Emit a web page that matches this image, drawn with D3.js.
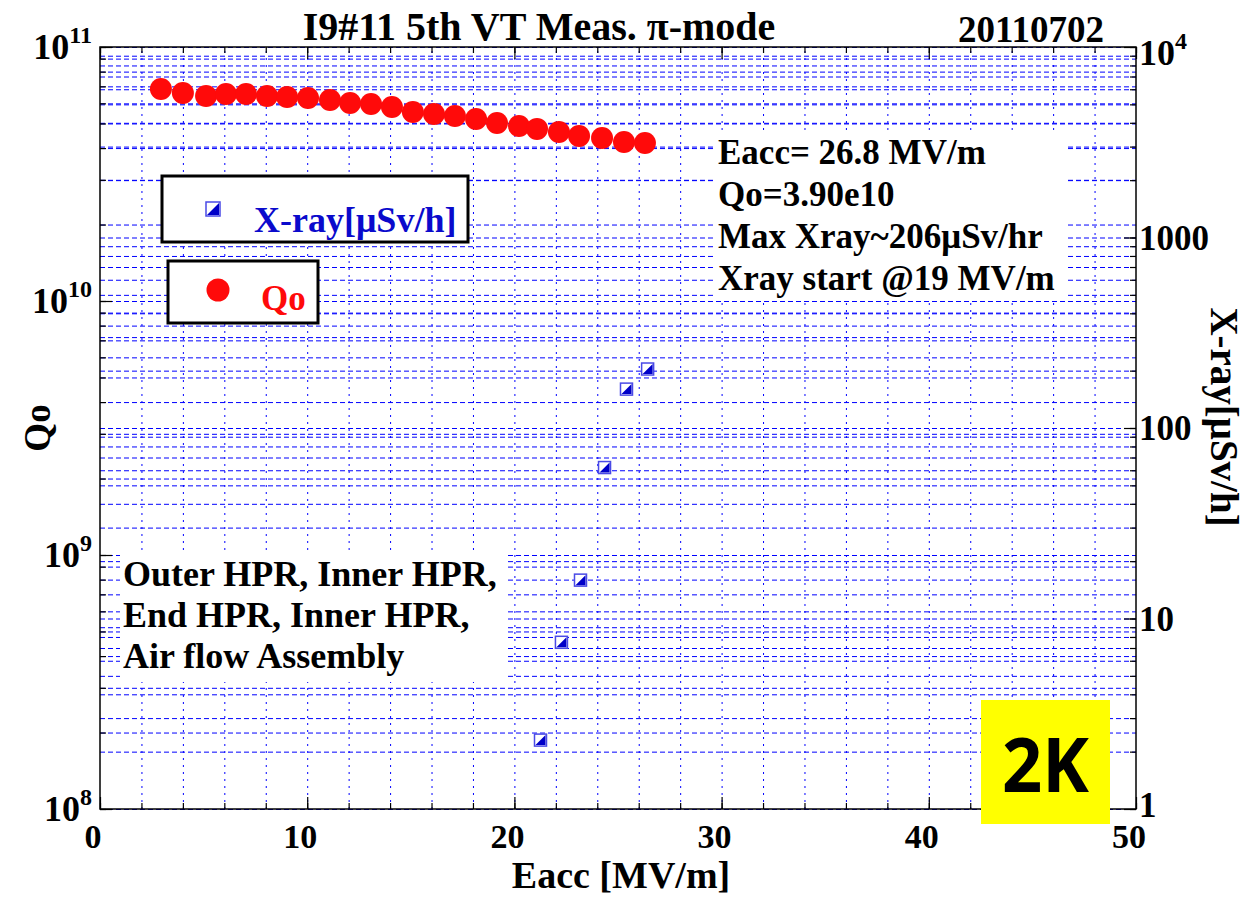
<!DOCTYPE html>
<html>
<head>
<meta charset="utf-8">
<title>I9#11 5th VT Meas.</title>
<script src="https://d3js.org/d3.v7.min.js"></script>
<style>
  body { margin: 0; background: #fff; }
  text { font-family: "Liberation Serif", "Times New Roman", serif; font-weight: bold; }
</style>
</head>
<body>
<svg width="1250" height="898"></svg>
<script>
// Qo points (Eacc in MV/m, Qo)
var eaccQo = [2.94, 4.0, 5.12, 6.08, 7.05, 8.06, 9.03, 10.04, 11.1, 12.07, 13.08, 14.09,
              15.1, 16.12, 17.13, 18.15, 19.16, 20.22, 21.09, 22.15, 23.12, 24.23, 25.29, 26.3];
var qo = [6.83e10, 6.59e10, 6.41e10, 6.53e10, 6.53e10, 6.41e10, 6.36e10, 6.30e10, 6.18e10, 6.02e10, 5.96e10, 5.80e10,
          5.55e10, 5.45e10, 5.35e10, 5.21e10, 5.02e10, 4.89e10, 4.76e10, 4.63e10, 4.46e10, 4.38e10, 4.23e10, 4.19e10];
// X-ray points (Eacc, uSv/h)
var eaccXray = [21.26, 22.27, 23.19, 24.35, 25.41, 26.43];
var xray = [2.3, 7.5, 15.9, 62, 160, 204];

var xTicks = [0, 10, 20, 30, 40, 50];
var qoExp = [8, 9, 10, 11];
var xrayTicks = [1, 10, 100, 1000];
var notes = ["Eacc= 26.8 MV/m", "Qo=3.90e10", "Max Xray~206\u03bcSv/hr", "Xray start @19 MV/m"];
var process = ["Outer HPR, Inner HPR,", "End HPR, Inner HPR,", "Air flow Assembly"];

var svg = d3.select("svg");
var L = 100, R = 1136, T = 47, B = 809;

var x = d3.scaleLinear().domain([0, 50]).range([L, R]);
var yQ = d3.scaleLog().domain([1e8, 1e11]).range([B, T]);
var yX = d3.scaleLog().domain([1, 1e4]).range([B, T]);

// grid: vertical dotted every 2 MV/m
svg.append("g").attr("transform", "translate(0," + B + ")")
  .call(d3.axisBottom(x).tickValues(d3.range(2, 50, 2)).tickSize(-(B - T)).tickFormat(""))
  .call(function (g) { g.select(".domain").remove(); })
  .selectAll("line").attr("stroke", "#0000ff").attr("stroke-width", 1).attr("stroke-dasharray", "2,5");

// grid: horizontal dashed lines from both log axes
[yQ, yX].forEach(function (s) {
  svg.append("g").attr("transform", "translate(" + L + ",0)")
    .call(d3.axisRight(s).tickSize(R - L).tickFormat(""))
    .call(function (g) { g.select(".domain").remove(); })
    .selectAll("line").attr("stroke", "#0000ff").attr("stroke-width", 1).attr("stroke-dasharray", "5,3");
});

// white boxes behind texts
svg.append("rect").attr("x", 716).attr("y", 133).attr("width", 351).attr("height", 165).attr("fill", "#fff");
svg.append("rect").attr("x", 120).attr("y", 554).attr("width", 385).attr("height", 128).attr("fill", "#fff");

// frame + ticks
svg.append("rect").attr("x", L).attr("y", T).attr("width", R - L).attr("height", B - T)
  .attr("fill", "none").attr("stroke", "#000").attr("stroke-width", 1.5);

function tickAxis(axis, tr, size, vals) {
  var a = axis.tickSize(size).tickFormat("");
  if (vals) a.tickValues(vals);
  svg.append("g").attr("transform", tr).call(a)
    .call(function (g) { g.select(".domain").remove(); })
    .selectAll("line").attr("stroke", "#000").attr("stroke-width", 1.2);
}
tickAxis(d3.axisRight(yQ), "translate(" + L + ",0)", 6);
tickAxis(d3.axisRight(yQ), "translate(" + L + ",0)", 12, [1e8, 1e9, 1e10, 1e11]);
tickAxis(d3.axisLeft(yX), "translate(" + R + ",0)", 6);
tickAxis(d3.axisLeft(yX), "translate(" + R + ",0)", 12, [1, 10, 100, 1000, 1e4]);
tickAxis(d3.axisTop(x), "translate(0," + B + ")", 6, d3.range(0, 51, 2));
tickAxis(d3.axisTop(x), "translate(0," + B + ")", 12, xTicks);
tickAxis(d3.axisBottom(x), "translate(0," + T + ")", 6, d3.range(0, 51, 2));
tickAxis(d3.axisBottom(x), "translate(0," + T + ")", 12, xTicks);

// tick labels
svg.append("g").selectAll("text").data(xTicks).join("text")
  .attr("x", function (d) { return x(d) - 7; }).attr("y", B + 39)
  .attr("text-anchor", "middle").attr("font-size", 34).text(function (d) { return d; });

var ql = svg.append("g").selectAll("text").data(qoExp).join("text")
  .attr("x", 92).attr("y", function (d) { return yQ(Math.pow(10, d)) + 12; })
  .attr("text-anchor", "end").attr("font-size", 36);
ql.append("tspan").text("10");
ql.append("tspan").attr("font-size", 24).attr("dy", -16).text(function (d) { return d; });

svg.append("g").selectAll("text").data(xrayTicks).join("text")
  .attr("x", R + 3).attr("y", function (d) { return yX(d) + (d === 1 ? 8 : 12); })
  .attr("font-size", 35).text(function (d) { return d; });
var t4 = svg.append("text").attr("x", R + 3).attr("y", yX(1e4) + 18).attr("font-size", 36);
t4.append("tspan").text("10");
t4.append("tspan").attr("font-size", 24).attr("dy", -16).text("4");

// titles
svg.append("text").attr("x", 539).attr("y", 40).attr("text-anchor", "middle").attr("font-size", 40)
  .text("I9#11 5th VT Meas. \u03c0-mode");
svg.append("text").attr("x", 1031).attr("y", 42).attr("text-anchor", "middle").attr("font-size", 37)
  .text("20110702");
svg.append("text").attr("x", 621).attr("y", 888).attr("text-anchor", "middle").attr("font-size", 38)
  .text("Eacc [MV/m]");
svg.append("text").attr("transform", "translate(50," + (T + B) / 2 + ") rotate(-90)")
  .attr("text-anchor", "middle").attr("font-size", 37).text("Qo");
svg.append("text").attr("transform", "translate(1211,417) rotate(90)")
  .attr("text-anchor", "middle").attr("font-size", 39).text("X-ray[\u03bcSv/h]");

// annotation texts
svg.append("g").selectAll("text").data(notes).join("text")
  .attr("x", 718).attr("y", function (d, i) { return 164 + i * 42; })
  .attr("font-size", 35).text(function (d) { return d; });
svg.append("g").selectAll("text").data(process).join("text")
  .attr("x", 123).attr("y", function (d, i) { return 586 + i * 41; })
  .attr("font-size", 36).text(function (d) { return d; });

// data: Qo circles
svg.append("g").selectAll("circle").data(qo).join("circle")
  .attr("cx", function (d, i) { return x(eaccQo[i]); })
  .attr("cy", function (d) { return yQ(d); })
  .attr("r", 11).attr("fill", "#ff0a0a");

// data: X-ray half-filled squares
function squareMarker(g, cx, cy, s) {
  s = s || 6;
  g.append("rect").attr("x", cx - s).attr("y", cy - s).attr("width", 2 * s).attr("height", 2 * s)
    .attr("fill", "#fff").attr("stroke", "#4a4ae6").attr("stroke-width", 1.5);
  g.append("path").attr("d", "M" + (cx + s - 1) + "," + (cy - s + 1) + "L" + (cx + s - 1) + "," + (cy + s - 1) + "L" + (cx - s + 1) + "," + (cy + s - 1) + "Z")
    .attr("fill", "#0000c8");
}
var xg = svg.append("g");
xray.forEach(function (v, i) { squareMarker(xg, x(eaccXray[i]), yX(v)); });

// legends
svg.append("rect").attr("x", 162).attr("y", 176).attr("width", 306).attr("height", 66)
  .attr("fill", "#fff").attr("stroke", "#000").attr("stroke-width", 3);
squareMarker(svg.append("g"), 213, 209, 7);
svg.append("text").attr("x", 254).attr("y", 232).attr("font-size", 36).attr("fill", "#0a0acc").text("X-ray[\u03bcSv/h]");

svg.append("rect").attr("x", 168).attr("y", 261).attr("width", 150).attr("height", 62)
  .attr("fill", "#fff").attr("stroke", "#000").attr("stroke-width", 3);
svg.append("circle").attr("cx", 218).attr("cy", 290).attr("r", 11.5).attr("fill", "#ff0a0a");
svg.append("text").attr("x", 261).attr("y", 310).attr("font-size", 35).attr("fill", "#ff0a0a").text("Qo");

// 2K label
svg.append("rect").attr("x", 981).attr("y", 700).attr("width", 129).attr("height", 124).attr("fill", "#ffff00");
svg.append("text").attr("x", 1002).attr("y", 792).attr("font-size", 76)
  .attr("textLength", 87).attr("lengthAdjust", "spacingAndGlyphs")
  .style("font-family", "'Open Sans', 'Liberation Sans', sans-serif").text("2K");
</script>
</body>
</html>
